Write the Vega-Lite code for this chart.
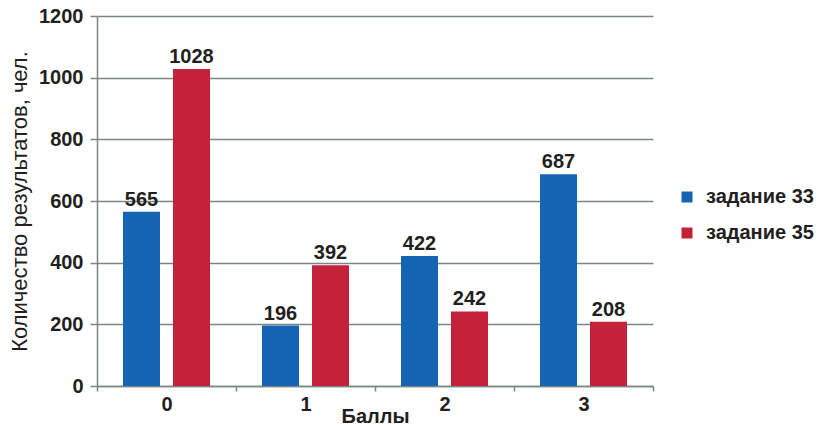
{
  "$schema": "https://vega.github.io/schema/vega-lite/v6.json",
  "width": 556,
  "height": 370,
  "autosize": {"type": "none"},
  "padding": {"left": 97, "top": 16, "right": 169, "bottom": 39},
  "background": "white",
  "config": {
    "font": "Liberation Sans",
    "view": {"stroke": null}
  },
  "data": {
    "values": [
      {"score": "0", "task": "задание 33", "count": 565},
      {"score": "0", "task": "задание 35", "count": 1028},
      {"score": "1", "task": "задание 33", "count": 196},
      {"score": "1", "task": "задание 35", "count": 392},
      {"score": "2", "task": "задание 33", "count": 422},
      {"score": "2", "task": "задание 35", "count": 242},
      {"score": "3", "task": "задание 33", "count": 687},
      {"score": "3", "task": "задание 35", "count": 208}
    ]
  },
  "encoding": {
    "x": {
      "field": "score",
      "type": "nominal",
      "scale": {"paddingInner": 0, "paddingOuter": 0},
      "axis": {
        "title": "Баллы",
        "titleFontSize": 20,
        "titleFontWeight": "bold",
        "titleColor": "#231f20",
        "titleY": 36,
        "titleBaseline": "alphabetic",
        "labelAngle": 0,
        "labelFontSize": 20,
        "labelFontWeight": "bold",
        "labelColor": "#231f20",
        "labelPadding": 3,
        "tickBand": "extent",
        "tickSize": 5,
        "tickColor": "#7b8787",
        "tickWidth": 1.5,
        "domainColor": "#7b8787",
        "domainWidth": 1.5,
        "grid": false
      }
    },
    "xOffset": {
      "field": "task",
      "type": "nominal",
      "scale": {"paddingInner": 0.26, "paddingOuter": 0.52}
    },
    "y": {
      "field": "count",
      "type": "quantitative",
      "scale": {"domain": [0, 1200], "nice": false},
      "axis": {
        "title": "Количество результатов, чел.",
        "titleFontSize": 22,
        "titleFontWeight": "normal",
        "titleColor": "#231f20",
        "titleX": -78,
        "titleY": 185,
        "titleAngle": -90,
        "titleBaseline": "middle",
        "titleAlign": "center",
        "values": [0, 200, 400, 600, 800, 1000, 1200],
        "format": "d",
        "labelFontSize": 20,
        "labelFontWeight": "bold",
        "labelColor": "#231f20",
        "labelPadding": 7,
        "tickSize": 7,
        "tickColor": "#7b8787",
        "tickWidth": 1.5,
        "domainColor": "#7b8787",
        "domainWidth": 1.5,
        "grid": true,
        "gridColor": "#7b8787",
        "gridWidth": 1.5,
        "gridOpacity": 1
      }
    }
  },
  "layer": [
    {
      "mark": {"type": "bar"},
      "encoding": {
        "color": {
          "field": "task",
          "type": "nominal",
          "scale": {"domain": ["задание 33", "задание 35"], "range": ["#1565b3", "#c4213a"]},
          "legend": {
            "title": null,
            "orient": "none",
            "legendX": 580,
            "legendY": 171,
            "padding": 0,
            "symbolType": "square",
            "symbolSize": 121,
            "symbolStrokeWidth": 0,
            "labelFontSize": 20,
            "labelFontWeight": "bold",
            "labelColor": "#231f20",
            "labelOffset": 9,
            "rowPadding": 16
          }
        }
      }
    },
    {
      "mark": {"type": "text", "dy": -6, "baseline": "alphabetic", "fontSize": 20, "fontWeight": "bold", "color": "#231f20"},
      "encoding": {
        "text": {"field": "count", "type": "quantitative"}
      }
    }
  ]
}
